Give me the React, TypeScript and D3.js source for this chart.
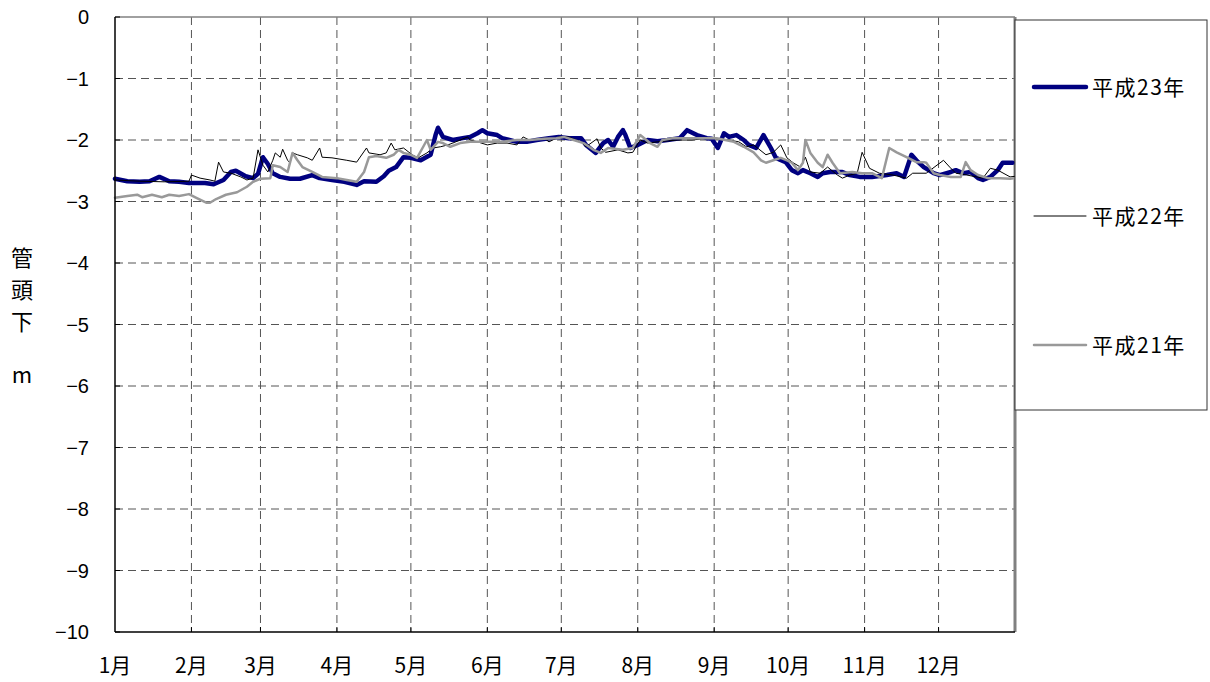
import React from 'react';
import * as d3 from 'd3';

const monthLabels = ['1月', '2月', '3月', '4月', '5月', '6月', '7月', '8月', '9月', '10月', '11月', '12月'];
const monthStartDays = [0, 31, 59, 90, 120, 151, 181, 212, 243, 273, 304, 334];
const yearDays = 365;
const yTicks = [0, -1, -2, -3, -4, -5, -6, -7, -8, -9, -10];

const seriesNames = ['平成23年', '平成22年', '平成21年'];

const days23 = [0, 5, 10, 14, 18, 22, 26, 30, 36.5, 40, 44, 47, 49, 53, 56, 58, 60, 62, 64, 67, 71, 75, 80, 83, 88, 93, 98, 101, 106, 109, 111, 114, 117, 120, 124, 128, 130, 131, 133, 137, 141, 144, 147, 149, 151, 155, 157, 163, 167, 171, 176, 180, 184, 189, 191, 195, 198, 200, 202, 204, 206, 207, 209, 212, 216, 220, 224, 229, 232, 236, 240, 242, 244.5, 247, 249, 252, 255, 257, 260, 263, 266, 268, 272, 274.5, 277, 279, 282, 285, 287, 290, 295, 298, 302, 307, 313, 317, 320, 323, 325, 328, 332, 334.5, 339, 341, 344, 347, 350, 352, 355, 358, 360, 364];
const depth23 = [-2.63, -2.67, -2.68, -2.67, -2.60, -2.67, -2.68, -2.70, -2.70, -2.72, -2.65, -2.52, -2.50, -2.59, -2.62, -2.55, -2.28, -2.39, -2.54, -2.60, -2.63, -2.63, -2.57, -2.62, -2.65, -2.68, -2.73, -2.67, -2.68, -2.59, -2.50, -2.44, -2.28, -2.29, -2.33, -2.24, -1.92, -1.80, -1.95, -2.00, -1.97, -1.95, -1.89, -1.84, -1.89, -1.92, -1.97, -2.03, -2.03, -2.00, -1.97, -1.95, -1.97, -1.97, -2.08, -2.21, -2.05, -2.00, -2.11, -1.95, -1.84, -1.92, -2.13, -2.08, -2.00, -2.02, -2.00, -1.97, -1.84, -1.92, -1.97, -1.98, -2.13, -1.89, -1.95, -1.92, -2.00, -2.08, -2.13, -1.92, -2.13, -2.29, -2.36, -2.49, -2.54, -2.49, -2.54, -2.60, -2.54, -2.52, -2.52, -2.57, -2.60, -2.60, -2.57, -2.54, -2.60, -2.24, -2.33, -2.44, -2.54, -2.57, -2.52, -2.49, -2.54, -2.52, -2.62, -2.65, -2.60, -2.49, -2.37, -2.37];

const days22 = [0, 10, 20, 30, 31, 34.5, 38.5, 40.5, 42, 44, 47, 51, 53.5, 56, 58, 60, 62, 64, 65, 67, 68, 70, 71, 72, 74, 78, 80, 83, 84, 88, 94, 98, 102, 103, 107.5, 110, 112, 113.5, 117, 120.5, 123, 126.5, 129, 132, 135, 137, 143, 144, 147, 151, 155, 159, 163, 164, 165.5, 168, 174, 176, 180, 184, 189, 191, 195.5, 197, 199, 204, 208, 210, 213, 216, 220, 228, 234, 241, 249, 253, 256, 259, 264, 267, 270, 272.5, 275, 278, 280, 282, 286, 289, 293, 295, 298, 301, 303, 306, 310, 315.5, 321, 323.5, 329, 336, 338.5, 341, 345.5, 352, 355, 358, 363, 365];
const depth22 = [-2.65, -2.67, -2.68, -2.67, -2.57, -2.62, -2.65, -2.67, -2.36, -2.52, -2.54, -2.60, -2.65, -2.62, -2.16, -2.41, -2.52, -2.33, -2.21, -2.28, -2.15, -2.33, -2.37, -2.21, -2.24, -2.29, -2.33, -2.13, -2.28, -2.29, -2.33, -2.36, -2.13, -2.21, -2.24, -2.21, -2.05, -2.16, -2.13, -2.24, -2.29, -2.21, -2.13, -2.11, -2.08, -2.05, -1.95, -2.00, -2.03, -2.08, -2.05, -2.05, -2.08, -2.03, -1.95, -2.00, -1.97, -2.03, -1.95, -1.95, -2.03, -2.11, -1.98, -2.13, -2.20, -2.16, -2.21, -2.20, -2.00, -2.05, -2.03, -2.00, -2.00, -1.97, -2.00, -2.03, -2.11, -2.08, -2.24, -2.20, -2.08, -2.29, -2.37, -2.44, -2.28, -2.52, -2.54, -2.44, -2.57, -2.62, -2.57, -2.54, -2.20, -2.46, -2.54, -2.57, -2.62, -2.54, -2.54, -2.33, -2.44, -2.54, -2.57, -2.62, -2.46, -2.49, -2.60, -2.59];

const days21 = [0, 5, 9, 11, 15, 19, 22, 26, 30, 33, 37, 38.5, 41, 45, 49.5, 53.5, 56, 59, 63, 64, 67, 70, 72, 74, 76, 80, 84, 90, 94, 98, 101, 103, 106, 110, 113, 115, 117, 120, 122.5, 125, 126.5, 128, 131, 133, 136, 140, 144, 151, 157, 163, 168, 174, 179, 182, 186, 190, 194, 197, 200, 206, 210, 213, 217, 220, 222, 226, 232, 237, 244, 251, 255, 259, 262, 264, 267, 270, 272.5, 274.5, 277, 279, 280, 282, 285, 287, 289, 291, 294, 299, 303, 307, 311, 314, 317, 321, 325, 328, 329, 332, 334.5, 339, 343, 345, 347, 350, 354, 359, 363, 365];
const depth21 = [-2.94, -2.91, -2.89, -2.93, -2.89, -2.93, -2.89, -2.91, -2.88, -2.94, -3.02, -3.02, -2.96, -2.89, -2.85, -2.76, -2.68, -2.63, -2.62, -2.41, -2.44, -2.52, -2.21, -2.33, -2.44, -2.52, -2.60, -2.62, -2.65, -2.68, -2.52, -2.28, -2.26, -2.29, -2.24, -2.16, -2.21, -2.24, -2.29, -2.11, -2.00, -2.16, -2.03, -2.05, -2.11, -2.05, -2.03, -2.03, -2.03, -2.00, -2.00, -1.98, -1.97, -1.95, -2.00, -2.05, -2.16, -2.21, -2.13, -2.16, -2.13, -1.92, -2.05, -2.11, -2.00, -1.97, -1.97, -1.97, -1.97, -2.03, -2.11, -2.20, -2.33, -2.37, -2.33, -2.29, -2.33, -2.37, -2.49, -2.37, -2.00, -2.21, -2.37, -2.44, -2.24, -2.37, -2.54, -2.52, -2.54, -2.54, -2.62, -2.13, -2.20, -2.28, -2.36, -2.36, -2.37, -2.54, -2.57, -2.60, -2.60, -2.36, -2.49, -2.57, -2.62, -2.62, -2.63, -2.62];

const W = 1210;
const H = 682;
const plot = { left: 115, right: 1015, top: 17, bottom: 632 };

export default function App() {
  const x = d3.scaleLinear().domain([0, yearDays]).range([plot.left, plot.right]);
  const y = d3.scaleLinear().domain([0, -10]).range([plot.top, plot.bottom]);
  const line = d3
    .line<[number, number]>()
    .x((d) => x(d[0]))
    .y((d) => y(d[1]));

  const zip = (ds: number[], vs: number[]) => ds.map((d, i) => [d, vs[i]] as [number, number]);

  const series = [
    { name: seriesNames[0], data: zip(days23, depth23), color: '#000080', width: 4.5 },
    { name: seriesNames[1], data: zip(days22, depth22), color: '#000000', width: 1 },
    { name: seriesNames[2], data: zip(days21, depth21), color: '#999999', width: 2.5 },
  ];

  const legendY = [87, 216, 345];
  const gridColor = '#555';
  const tickFont = '"Liberation Sans", Arial, sans-serif';
  const cjkFont = '"Noto Sans CJK JP", sans-serif';

  return (
    <svg width={W} height={H} style={{ position: 'absolute', left: 0, top: 0, background: '#fff' }}>
      <rect x={0} y={0} width={W} height={H} fill="#fff" />
      {/* grid */}
      {yTicks.slice(1, -1).map((t) => (
        <line key={'h' + t} x1={plot.left} x2={plot.right} y1={y(t)} y2={y(t)} stroke={gridColor} strokeWidth={1} strokeDasharray="8,5" />
      ))}
      {monthStartDays.slice(1).map((d) => (
        <line key={'v' + d} x1={x(d)} x2={x(d)} y1={plot.top} y2={plot.bottom} stroke={gridColor} strokeWidth={1} strokeDasharray="8,5" />
      ))}
      {/* plot border */}
      <line x1={plot.left} x2={plot.right} y1={plot.top} y2={plot.top} stroke="#808080" strokeWidth={1.5} />
      <line x1={plot.right} x2={plot.right} y1={plot.top} y2={plot.bottom} stroke="#808080" strokeWidth={3} />
      {/* series */}
      {series.map((s) => (
        <path key={s.name} d={line(s.data) || ''} fill="none" stroke={s.color} strokeWidth={s.width} strokeLinejoin="round" strokeLinecap="round" />
      ))}
      {/* axes */}
      <line x1={plot.left} x2={plot.left} y1={plot.top} y2={plot.bottom} stroke="#000" strokeWidth={1.5} />
      <line x1={plot.left} x2={plot.right} y1={plot.bottom} y2={plot.bottom} stroke="#000" strokeWidth={1.5} />
      {yTicks.map((t) => (
        <line key={'yt' + t} x1={plot.left} x2={plot.left + 5} y1={y(t)} y2={y(t)} stroke="#000" strokeWidth={1} />
      ))}
      {monthStartDays.slice(1).map((d) => (
        <line key={'xt' + d} x1={x(d)} x2={x(d)} y1={plot.bottom} y2={plot.bottom - 5} stroke="#000" strokeWidth={1} />
      ))}
      {/* y tick labels */}
      {yTicks.map((t) => (
        <text key={'yl' + t} x={89} y={y(t)} dy="0.36em" textAnchor="end" fontSize={20} fontFamily={tickFont} fill="#000">
          {t === 0 ? '0' : '−' + Math.abs(t)}
        </text>
      ))}
      {/* x tick labels */}
      {monthStartDays.map((d, i) => (
        <text key={'xl' + d} x={x(d)} y={665} dy="0.36em" textAnchor="middle" fontSize={21} fontFamily={cjkFont} fill="#000">
          {monthLabels[i]}
        </text>
      ))}
      {/* y axis title */}
      {['管', '頭', '下'].map((c, i) => (
        <text key={'ytl' + c} x={22} y={258 + i * 32} dy="0.36em" textAnchor="middle" fontSize={22} fontFamily={cjkFont} fill="#000">
          {c}
        </text>
      ))}
      <text x={22} y={375} dy="0.36em" textAnchor="middle" fontSize={22} fontFamily={cjkFont} fill="#000">
        m
      </text>
      {/* legend */}
      <rect x={1015} y={20} width={192} height={390} fill="#fff" stroke="#333" strokeWidth={1} />
      {series.map((s, i) => (
        <g key={'lg' + s.name}>
          <line x1={1034} x2={1086} y1={legendY[i]} y2={legendY[i]} stroke={s.color} strokeWidth={s.width} strokeLinecap="round" />
          <text x={1092} y={legendY[i]} dy="0.36em" fontSize={21} fontFamily={cjkFont} fill="#000" letterSpacing={1.5}>
            {s.name}
          </text>
        </g>
      ))}
    </svg>
  );
}
